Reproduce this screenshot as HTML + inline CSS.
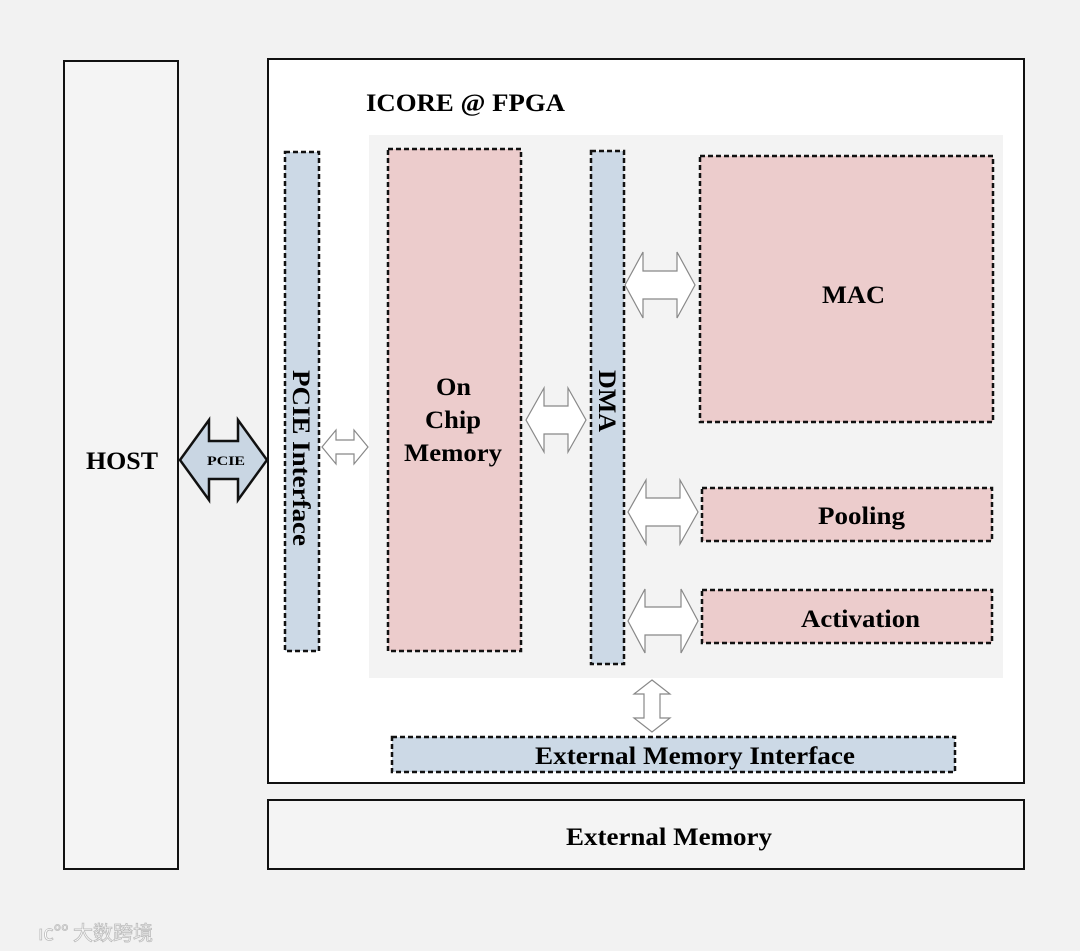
<!DOCTYPE html>
<html><head><style>body{margin:0;background:#f2f2f2}svg{display:block}</style></head><body>
<svg width="1080" height="951" viewBox="0 0 1080 951" xmlns="http://www.w3.org/2000/svg" font-family="Liberation Serif, serif" font-weight="bold">
<rect width="1080" height="951" fill="#f2f2f2"/>
<rect x="64" y="61" width="114" height="808" fill="#f4f4f4" stroke="#111" stroke-width="2"/>
<text x="86" y="469" font-size="25" textLength="72" lengthAdjust="spacingAndGlyphs">HOST</text>
<rect x="268" y="59" width="756" height="724" fill="#fff" stroke="#111" stroke-width="2"/>
<text x="366" y="111" font-size="25" textLength="199" lengthAdjust="spacingAndGlyphs">ICORE @ FPGA</text>
<rect x="369" y="135" width="634" height="543" fill="#f3f3f3"/>
<rect x="268" y="800" width="756" height="69" fill="#f4f4f4" stroke="#111" stroke-width="2"/>
<text x="566" y="845" font-size="25" textLength="206" lengthAdjust="spacingAndGlyphs">External Memory</text>
<g stroke="#111" stroke-width="2.5" stroke-dasharray="5,3">
<rect x="285" y="152" width="34" height="499" fill="#ccd9e6"/>
<rect x="388" y="149" width="133" height="502" fill="#eccccc"/>
<rect x="591" y="151" width="33" height="513" fill="#ccd9e6"/>
<rect x="700" y="156" width="293" height="266" fill="#eccccc"/>
<rect x="702" y="488" width="290" height="53" fill="#eccccc"/>
<rect x="702" y="590" width="290" height="53" fill="#eccccc"/>
<rect x="392" y="737" width="563" height="35" fill="#ccd9e6"/>
</g>
<text transform="translate(293,370) rotate(90)" font-size="25" textLength="176" lengthAdjust="spacingAndGlyphs">PCIE Interface</text>
<text transform="translate(599,370) rotate(90)" font-size="25" textLength="62" lengthAdjust="spacingAndGlyphs">DMA</text>
<text x="436" y="395" font-size="25" textLength="35" lengthAdjust="spacingAndGlyphs">On</text>
<text x="425" y="428" font-size="25" textLength="56" lengthAdjust="spacingAndGlyphs">Chip</text>
<text x="404" y="461" font-size="25" textLength="98" lengthAdjust="spacingAndGlyphs">Memory</text>
<text x="822" y="303" font-size="25" textLength="63" lengthAdjust="spacingAndGlyphs">MAC</text>
<text x="818" y="524" font-size="25" textLength="87" lengthAdjust="spacingAndGlyphs">Pooling</text>
<text x="801" y="627" font-size="25" textLength="119" lengthAdjust="spacingAndGlyphs">Activation</text>
<text x="535" y="764" font-size="25" textLength="320" lengthAdjust="spacingAndGlyphs">External Memory Interface</text>
<polygon points="180,460 209,420 209,441 238,441 238,420 267,460 238,500 238,479 209,479 209,500" fill="#c9d6e3" stroke="#111" stroke-width="2.5"/>
<text x="207" y="465" font-size="13" textLength="38" lengthAdjust="spacingAndGlyphs">PCIE</text>
<g fill="#fff" stroke="#888" stroke-width="1.2">
<polygon points="322,447 336,430 336,440 354,440 354,430 368,447 354,464 354,454 336,454 336,464"/>
<polygon points="526,420 544,388 544,406 568,406 568,388 586,420 568,452 568,434 544,434 544,452"/>
<polygon points="625,285 643,252 643,271 677,271 677,252 695,285 677,318 677,299 643,299 643,318"/>
<polygon points="628,512 646,480 646,498 680,498 680,480 698,512 680,544 680,526 646,526 646,544"/>
<polygon points="628,621 645,589 645,607 681,607 681,589 698,621 681,653 681,635 645,635 645,653"/>
<polygon points="652,680 670,694 660,694 660,718 670,718 652,732 634,718 644,718 644,694 634,694"/>
</g>
<text x="38" y="940" font-size="20" font-family="Noto Sans CJK SC, sans-serif" font-weight="normal" fill="#fff" stroke="#bbb" stroke-width="0.8">ıc°° 大数跨境</text>
</svg>
</body></html>
